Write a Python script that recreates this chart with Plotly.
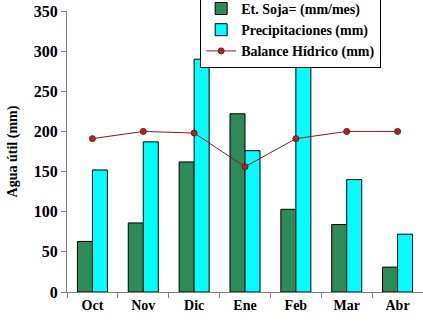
import plotly.graph_objects as go

months = ["Oct", "Nov", "Dic", "Ene", "Feb", "Mar", "Abr"]
et_soja = [63, 86, 162, 222, 103, 84, 31]
precip = [152, 187, 290, 176, 291, 140, 72]
balance = [191, 200, 198, 156, 191, 200, 200]

FONT = "Liberation Serif"

fig = go.Figure()
fig.add_trace(go.Bar(
    x=months, y=et_soja, name="Et. Soja= (mm/mes)",
    marker=dict(color="#2E8B57", line=dict(color="black", width=1)),
))
fig.add_trace(go.Bar(
    x=months, y=precip, name="Precipitaciones (mm)",
    marker=dict(color="#00FFFF", line=dict(color="black", width=1)),
))
fig.add_trace(go.Scatter(
    x=months, y=balance, name="Balance Hídrico (mm)", mode="lines+markers",
    line=dict(color="#8B1A1A", width=1),
    marker=dict(color="#B22222", size=6, line=dict(color="#7A1515", width=1)),
))

fig.update_layout(
    width=423, height=326,
    margin=dict(l=67, r=0, t=11, b=34, autoexpand=False),
    paper_bgcolor="white", plot_bgcolor="white",
    barmode="group", bargap=0.41, bargroupgap=0,
    font=dict(family=FONT, size=13, color="black", weight="bold"),
    showlegend=True,
    legend=dict(
        x=0.374, y=1.068, xanchor="left", yanchor="top",
        bgcolor="white", bordercolor="black", borderwidth=1,
        font=dict(family=FONT, size=14, color="black", weight="bold"),
        tracegroupgap=0, itemwidth=30,
    ),
    xaxis=dict(
        showline=True, linecolor="#808080", linewidth=1,
        ticks="outside", ticklen=5, tickcolor="#808080", tickson="boundaries",
        showgrid=False, range=[-0.5, 6.5],
        tickfont=dict(family=FONT, size=14, color="black", weight="bold"),
    ),
    yaxis=dict(
        range=[0, 350], dtick=50,
        showline=True, linecolor="#808080", linewidth=1,
        ticks="outside", ticklen=5, tickcolor="#808080",
        showgrid=False, zeroline=False,
        tickfont=dict(family=FONT, size=16, color="black", weight="bold"),
        title=dict(text="Agua útil (mm)", standoff=12,
                   font=dict(family=FONT, size=14, color="black", weight="bold")),
    ),
)

fig.write_html("out.html")
